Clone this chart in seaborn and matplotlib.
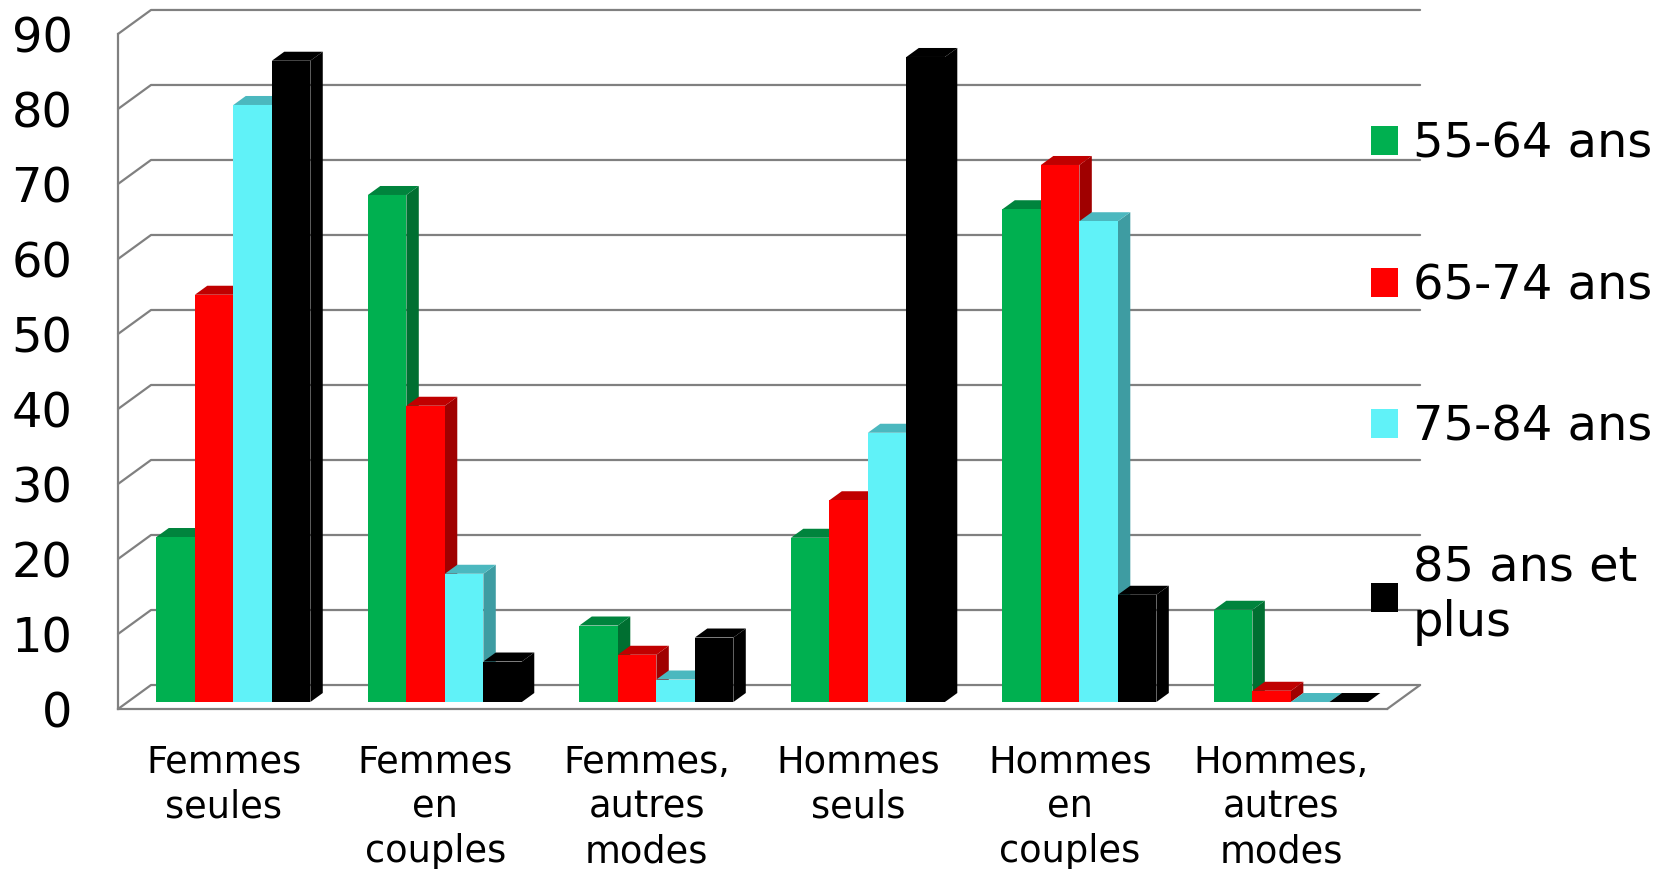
import matplotlib.pyplot as plt
import numpy as np
import pandas as pd
import seaborn as sns
from matplotlib.patches import Patch, Polygon

# Data (percent)
categories = ["Femmes\nseules", "Femmes\nen\ncouples", "Femmes,\nautres\nmodes",
              "Hommes\nseuls", "Hommes\nen\ncouples", "Hommes,\nautres\nmodes"]
age_groups = ["55-64 ans", "65-74 ans", "75-84 ans", "85 ans et\nplus"]
v_55_64 = [22.0, 67.6, 10.2, 21.9, 65.7, 12.3]
v_65_74 = [54.3, 39.5, 6.3, 26.9, 71.6, 1.5]
v_75_84 = [79.6, 17.1, 3.0, 35.9, 64.1, 0.0]
v_85_plus = [85.5, 5.4, 8.6, 86.0, 14.3, 0.0]
y_ticks = list(range(0, 91, 10))

front_colors = ["#00B050", "#FF0000", "#60F2F8", "#000000"]
side_colors = ["#006F31", "#A00000", "#3E9CA2", "#000000"]
top_colors = ["#00843D", "#C00000", "#4BB8BF", "#000000"]
grid_col = "#808080"

df = pd.DataFrame({
    "categorie": categories * 4,
    "age": np.repeat(age_groups, len(categories)),
    "valeur": v_55_64 + v_65_74 + v_75_84 + v_85_plus,
})

sns.set_style("white")
plt.rcParams["font.family"] = ["DejaVu Sans"]
plt.rcParams["text.color"] = "black"

fig = plt.figure(figsize=(16.74, 8.69), dpi=100)
ax = fig.add_axes([0.0705, 0.1841, 0.7581, 0.7768])

sns.barplot(data=df, x="categorie", y="valeur", hue="age", order=categories,
            hue_order=age_groups, palette=front_colors, saturation=1, width=0.728,
            linewidth=0, legend=False, ax=ax)

# pixel -> data offsets for the fake 3D look
px_x = 1269 / 6
px_y = 7.5
back = (33 / px_x, 24 / px_y)
plane = (9.6 / px_x, 7 / px_y)
depth = (12.4 / px_x, 9 / px_y)

# side and top faces of the bars, bars shifted to their depth plane
bars = sorted([p for p in ax.patches], key=lambda p: p.get_x())
color_idx = {c: i for i, c in enumerate(front_colors)}
for k, p in enumerate(bars):
    p.set_x(p.get_x() + plane[0])
    p.set_y(p.get_y() + plane[1])
    fc = p.get_facecolor()
    hexc = "#{:02X}{:02X}{:02X}".format(*[int(round(c * 255)) for c in fc[:3]])
    i = color_idx.get(hexc, 3)
    x0, y0 = p.get_x(), p.get_y()
    w, h = p.get_width(), p.get_height()
    z = 2 + k * 0.01
    side = Polygon([(x0 + w, y0), (x0 + w + depth[0], y0 + depth[1]),
                    (x0 + w + depth[0], y0 + h + depth[1]), (x0 + w, y0 + h)],
                   closed=True, facecolor=side_colors[i], edgecolor="none",
                   zorder=z, clip_on=False)
    top = Polygon([(x0, y0 + h), (x0 + depth[0], y0 + h + depth[1]),
                   (x0 + w + depth[0], y0 + h + depth[1]), (x0 + w, y0 + h)],
                  closed=True, facecolor=top_colors[i], edgecolor="none",
                  zorder=z, clip_on=False)
    ax.add_patch(side)
    ax.add_patch(top)
    p.set_zorder(z + 0.005)
    p.set_clip_on(False)

# walls: back gridlines and side diagonals
for v in y_ticks:
    ax.plot([-0.5, -0.5 + back[0], 5.5 + back[0]], [v, v + back[1], v + back[1]],
            color=grid_col, lw=1.6, clip_on=False, zorder=0.5)
ax.plot([5.5, 5.5 + back[0]], [0, back[1]], color=grid_col, lw=1.6,
        clip_on=False, zorder=0.5)

ax.set_xlim(-0.5, 5.5)
ax.set_ylim(0, 90)
ax.set_xlabel("")
ax.set_ylabel("")

for s in ["top", "right"]:
    ax.spines[s].set_visible(False)
for s in ["left", "bottom"]:
    ax.spines[s].set_color(grid_col)
    ax.spines[s].set_linewidth(1.6)

ax.set_yticks(y_ticks)
ax.tick_params(axis="y", direction="out", length=10.8, width=1.6, color=grid_col,
               labelsize=34.5, pad=22, labelcolor="black")
ax.set_xticks(range(len(categories)))
ax.set_xticklabels(categories, linespacing=1.27)
ax.set_xticks(np.arange(-0.5, len(categories), 1), minor=True)
ax.tick_params(axis="x", which="major", length=0, labelsize=26.5, pad=25,
               labelcolor="black")
ax.tick_params(axis="x", which="minor", direction="out", length=8, width=1.6,
               color=grid_col)

handles = [Patch(facecolor=c, edgecolor="none") for c in front_colors]
fig.legend(handles=handles, labels=age_groups, loc="upper left",
           bbox_to_anchor=(0.819, 0.861), frameon=False, fontsize=34.5,
           handlelength=0.56, handleheight=0.56, handletextpad=0.31,
           labelspacing=1.97, borderaxespad=0, borderpad=0, labelcolor="black")

plt.savefig("out.png", dpi=100)
